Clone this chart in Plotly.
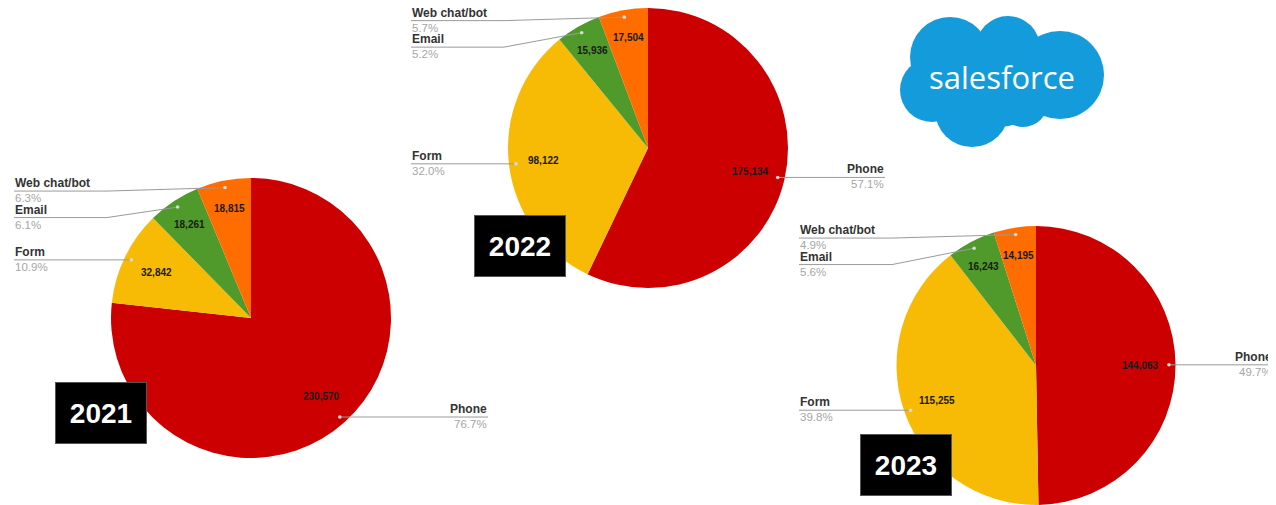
import math
import plotly.graph_objects as go

# ---------------- data ----------------
categories = ["Phone", "Form", "Email", "Web chat/bot"]
years = ["2021", "2022", "2023"]
values_2021 = [230570, 32842, 18261, 18815]
values_2022 = [175134, 98122, 15936, 17504]
values_2023 = [144063, 115255, 16243, 14195]
series = {"2021": values_2021, "2022": values_2022, "2023": values_2023}
slice_colors = ["#CC0000", "#F8BB05", "#4F9A2B", "#FF6D01"]

# ---------------- layout constants (window pixels) ----------------
OFF = 8                      # page body margin
FIG_W, FIG_H = 1268, 497
R = 140
CENTERS = {"2021": (251, 318), "2022": (648, 148), "2023": (1036, 366)}
YEAR_BOX = {"2021": (101, 413), "2022": (520, 246), "2023": (906, 465)}
FONT = "Liberation Sans, Arial, sans-serif"
GAP = 26.5


def px(x):
    return (x - OFF) / FIG_W


def py(y):
    return 1 - (y - OFF) / FIG_H


fig = go.Figure()
shapes = []
annotations = []

for yr in years:
    vals = series[yr]
    cx, cy = CENTERS[yr]
    dx0, dx1 = max(0.0, px(cx - R)), min(1.0, px(cx + R))
    dy0, dy1 = max(0.0, py(cy + R)), min(1.0, py(cy - R))
    fig.add_trace(go.Pie(
        labels=categories, values=vals, sort=False, direction="clockwise",
        rotation=0, marker=dict(colors=slice_colors, line=dict(width=0)),
        textinfo="none", hoverinfo="label+value+percent", showlegend=False,
        domain=dict(x=[dx0, dx1], y=[dy0, dy1]),
    ))

    total = sum(vals)
    cum = 0
    items = []
    for name, v in zip(categories, vals):
        frac = v / total
        mid = (cum + frac / 2) * 2 * math.pi
        cum += frac
        s, c = math.sin(mid), -math.cos(mid)
        rf = 0.75 if frac >= 0.10 else 0.80
        annotations.append(dict(
            x=px(cx + rf * R * s), y=py(cy + rf * R * c), xref="paper", yref="paper",
            text=f"<b>{v:,}</b>", showarrow=False, xanchor="center", yanchor="middle",
            font=dict(family=FONT, size=10, color="#1a1a1a")))
        dot = (cx + 0.95 * R * s, cy + 0.95 * R * c)
        items.append(dict(name=name, pct=frac * 100, dot=dot,
                          side="left" if s < 0 else "right"))

    for side in ("left", "right"):
        grp = sorted([it for it in items if it["side"] == side], key=lambda t: t["dot"][1])
        prev = None
        for it in grp:
            it["ly"] = it["dot"][1]
            it["pushed"] = False
            if prev is not None and it["ly"] < prev["ly"] + GAP:
                it["ly"] = prev["ly"] + GAP
                it["pushed"] = True
                prev["pushed"] = True
            prev = it
        for it in grp:
            if it["pushed"]:
                it["ly"] += 3.5

    for it in items:
        dxp, dyp = it["dot"]
        ly = it["ly"]
        if it["side"] == "left":
            bend, end, anchor = cx - R - 4, cx - R - 97, "left"
        else:
            bend, end, anchor = cx + R + 4, cx + R + 97, "right"
        path = (f"M {px(dxp)},{py(dyp)} L {px(bend)},{py(ly)} "
                f"L {px(end)},{py(ly)}")
        shapes.append(dict(type="path", path=path, xref="paper", yref="paper",
                           line=dict(color="#9a9a9a", width=1), layer="above"))
        shapes.append(dict(type="circle", xref="paper", yref="paper",
                           x0=px(dxp - 1.8), x1=px(dxp + 1.8),
                           y0=py(dyp + 1.8), y1=py(dyp - 1.8),
                           fillcolor="#d8d8d8", line=dict(width=0), layer="above"))
        annotations.append(dict(
            x=px(end), y=py(ly), xref="paper", yref="paper", text=f"<b>{it['name']}</b>",
            showarrow=False, xanchor=anchor, yanchor="bottom", borderpad=0,
            font=dict(family=FONT, size=12, color="#333333")))
        annotations.append(dict(
            x=px(end), y=py(ly), xref="paper", yref="paper", text=f"{it['pct']:.1f}%",
            showarrow=False, xanchor=anchor, yanchor="top", borderpad=0,
            font=dict(family=FONT, size=11.5, color="#a6a6a6")))

    bx, by = YEAR_BOX[yr]
    annotations.append(dict(
        x=px(bx), y=py(by), xref="paper", yref="paper", text=f"<b>{yr}</b>",
        showarrow=False, xanchor="center", yanchor="middle", width=90, height=60,
        bgcolor="#000000", bordercolor="#555555", borderwidth=1, borderpad=0,
        font=dict(family=FONT, size=28, color="#ffffff")))

# ---------------- salesforce logo (decoration) ----------------
CLOUD_BLUE = "#149BDB"
cloud = [(950, 57, 40), (1008, 48, 32), (1060, 75, 44), (1023, 102, 25),
         (972, 110, 37), (932, 90, 32), (1000, 85, 42)]
for (ccx, ccy, cr) in cloud:
    shapes.append(dict(type="circle", xref="paper", yref="paper",
                       x0=px(ccx - cr), x1=px(ccx + cr), y0=py(ccy + cr), y1=py(ccy - cr),
                       fillcolor=CLOUD_BLUE, line=dict(width=0), layer="above"))
annotations.append(dict(
    x=px(1002), y=py(77), xref="paper", yref="paper", text="salesforce",
    showarrow=False, xanchor="center", yanchor="middle",
    font=dict(family="Open Sans, sans-serif", size=31, color="#ffffff")))

fig.update_layout(
    width=FIG_W, height=FIG_H, margin=dict(l=0, r=0, t=0, b=0),
    paper_bgcolor="#ffffff", plot_bgcolor="#ffffff",
    shapes=shapes, annotations=annotations, showlegend=False,
)

fig.write_html("out.html")
